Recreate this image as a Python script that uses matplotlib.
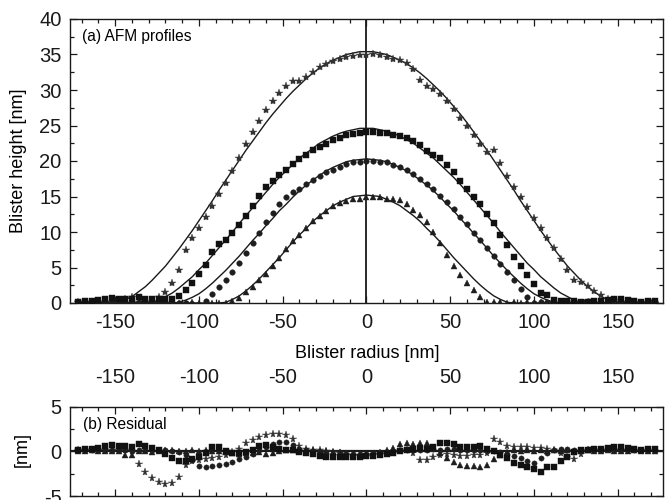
import numpy as np
import matplotlib
matplotlib.use('Agg')
from matplotlib import pyplot as plt
from matplotlib.ticker import MultipleLocator

plt.rcParams['font.family'] = ['Liberation Sans', 'DejaVu Sans']
plt.rcParams['axes.unicode_minus'] = False

# AFM sampling grid [nm]
radius = np.arange(-172, 173, 4)

# fitted profiles [nm]
star_fit = [0, 0, 0, 0, 0, 0.0, 0.2, 0.5, 0.9, 1.6, 2.3, 3.2, 4.2, 5.2, 6.4, 7.6, 8.9, 10.2, 11.6, 13.0, 14.4,
            15.9, 17.3, 18.7, 20.1, 21.5, 22.8, 24.1, 25.4, 26.6, 27.7, 28.8, 29.8, 30.7, 31.6, 32.4, 33.1, 33.7,
            34.2, 34.6, 35.0, 35.2, 35.4, 35.4, 35.4, 35.2, 35.0, 34.6, 34.2, 33.7, 33.1, 32.4, 31.6, 30.7, 29.8,
            28.8, 27.7, 26.6, 25.4, 24.1, 22.8, 21.5, 20.1, 18.7, 17.3, 15.9, 14.4, 13.0, 11.6, 10.2, 8.9, 7.6,
            6.4, 5.2, 4.2, 3.2, 2.3, 1.6, 0.9, 0.5, 0.2, 0.0, 0, 0, 0, 0, 0]
square_fit = [0, 0, 0, 0, 0, 0, 0, 0, 0, 0, 0.0, 0.1, 0.4, 0.9, 1.4, 2.1, 2.9, 3.7, 4.7, 5.6, 6.7, 7.8, 8.9,
              10.0, 11.2, 12.3, 13.4, 14.5, 15.6, 16.7, 17.7, 18.6, 19.5, 20.4, 21.1, 21.8, 22.5, 23.0, 23.5,
              23.9, 24.2, 24.4, 24.6, 24.6, 24.6, 24.4, 24.2, 23.9, 23.5, 23.0, 22.5, 21.8, 21.1, 20.4, 19.5,
              18.6, 17.7, 16.7, 15.6, 14.5, 13.4, 12.3, 11.2, 10.0, 8.9, 7.8, 6.7, 5.6, 4.7, 3.7, 2.9, 2.1, 1.4,
              0.9, 0.4, 0.1, 0.0, 0, 0, 0, 0, 0, 0, 0, 0, 0, 0]
circle_fit = [0, 0, 0, 0, 0, 0, 0, 0, 0, 0, 0, 0, 0, 0, 0, 0.1, 0.4, 0.8, 1.3, 2.0, 2.8, 3.7, 4.6, 5.6, 6.6,
              7.7, 8.8, 9.8, 10.9, 11.9, 13.0, 13.9, 14.9, 15.8, 16.6, 17.3, 18.0, 18.6, 19.1, 19.5, 19.9, 20.1,
              20.2, 20.3, 20.2, 20.1, 19.9, 19.5, 19.1, 18.6, 18.0, 17.3, 16.6, 15.8, 14.9, 13.9, 13.0, 11.9,
              10.9, 9.8, 8.8, 7.7, 6.6, 5.6, 4.6, 3.7, 2.8, 2.0, 1.3, 0.8, 0.4, 0.1, 0, 0, 0, 0, 0, 0, 0, 0, 0,
              0, 0, 0, 0, 0, 0]
triangle_fit = [0, 0, 0, 0, 0, 0, 0, 0, 0, 0, 0, 0, 0, 0, 0, 0, 0, 0, 0, 0, 0, 0, 0.1, 0.5, 1.0, 1.7, 2.5,
                3.4, 4.4, 5.4, 6.4, 7.5, 8.6, 9.6, 10.5, 11.5, 12.3, 13.0, 13.7, 14.2, 14.6, 15.0, 15.1, 15.2,
                15.1, 15.0, 14.6, 14.2, 13.7, 13.0, 12.3, 11.5, 10.5, 9.6, 8.6, 7.5, 6.4, 5.4, 4.4, 3.4, 2.5,
                1.7, 1.0, 0.5, 0.1, 0, 0, 0, 0, 0, 0, 0, 0, 0, 0, 0, 0, 0, 0, 0, 0, 0, 0, 0, 0, 0, 0]

# measured heights [nm]
star_h = [0.1, 0.1, 0.2, 0.1, 0.2, 0.1, 0.4, 0.6, 0.9, 0.2, 0.0, 0.2, 0.8, 1.5, 2.8, 4.7, 7.4, 9.1, 10.6,
          12.1, 13.7, 15.3, 16.9, 18.6, 20.4, 22.4, 24.1, 25.7, 27.2, 28.5, 29.6, 30.6, 31.2, 31.3, 31.9, 32.6,
          33.2, 33.7, 34.1, 34.4, 34.7, 34.8, 34.9, 34.9, 35.0, 34.9, 34.7, 34.4, 34.2, 33.8, 32.9, 31.4, 30.6,
          30.1, 29.4, 28.5, 27.3, 26.1, 24.9, 23.7, 22.4, 21.3, 21.5, 19.7, 17.9, 16.4, 14.9, 13.5, 12.0, 10.6,
          9.2, 7.8, 6.2, 4.6, 3.3, 2.9, 2.4, 1.7, 1.1, 0.6, 0.4, 0.1, 0.1, 0.1, 0.0, 0.1, 0.0]
square_h = [0.2, 0.3, 0.3, 0.4, 0.6, 0.7, 0.6, 0.6, 0.5, 0.8, 0.6, 0.5, 0.6, 0.6, 0.6, 1.0, 1.8, 2.8, 4.1, 5.4,
            7.2, 8.3, 8.9, 9.8, 11.0, 12.2, 13.6, 15.1, 16.3, 17.2, 18.0, 18.8, 19.6, 20.3, 20.9, 21.5, 22.0,
            22.4, 22.9, 23.3, 23.6, 23.8, 24.0, 24.1, 24.1, 24.0, 23.9, 23.7, 23.5, 23.2, 22.8, 22.2, 21.4,
            20.9, 20.4, 19.5, 18.5, 17.2, 16.1, 15.0, 14.0, 12.6, 11.2, 9.6, 8.1, 6.5, 5.2, 3.9, 2.7, 1.4, 1.1,
            0.4, 0.3, 0.3, 0.3, 0.2, 0.2, 0.3, 0.3, 0.4, 0.5, 0.5, 0.4, 0.3, 0.2, 0.3, 0.3]
circle_h = [0.1, 0.1, 0.1, 0.2, 0.2, 0.1, 0.1, 0.1, 0.0, 0.1, 0.2, 0.2, 0.1, 0.1, 0.0, 0.0, 0.0, -0.2, -0.3,
            0.3, 1.2, 2.2, 3.2, 4.4, 5.7, 7.1, 8.5, 9.9, 11.4, 12.7, 14.0, 14.9, 15.6, 16.1, 16.7, 17.3, 17.9,
            18.4, 18.8, 19.2, 19.6, 19.8, 19.9, 20.0, 20.0, 19.9, 19.8, 19.5, 19.2, 18.8, 18.2, 17.5, 16.8, 16.1,
            15.1, 14.2, 13.3, 12.1, 11.1, 9.9, 8.9, 7.7, 6.6, 5.5, 4.3, 3.2, 2.0, 0.9, 0.0, 0.1, 0.2, 0.2, 0.3,
            0.3, 0.2, 0.2, 0.3, 0.2, 0.2, 0.3, 0.2, 0.2, 0.3, 0.2, 0.2, 0.2, 0.2]
triangle_h = [0.0, 0.0, 0.1, 0.0, 0.0, 0.0, 0.0, -0.4, -0.4, 0.0, 0.0, -0.1, 0.0, 0.1, 0.1, 0.0, 0.0, 0.1, 0.0,
              0.1, 0.0, 0.0, 0.0, 0.3, 0.7, 1.5, 2.3, 3.3, 4.1, 5.2, 6.4, 7.6, 8.7, 9.6, 10.6, 11.6, 12.3, 13.0,
              13.6, 14.1, 14.4, 14.7, 14.7, 14.9, 14.9, 14.9, 14.7, 14.6, 14.5, 13.9, 13.1, 12.4, 11.4, 10.0, 8.4,
              6.8, 5.2, 3.9, 2.8, 1.8, 0.8, 0.2, 0.1, 0.1, 0.0, 0.1, 0.0, 0.1, 0.0, 0.1, 0.0, 0.1, 0.0, 0.1, 0.0,
              0.0, 0.1, 0.0, 0.0, 0.1, 0.0, 0.0, 0.0, 0.1, 0.0, 0.0, 0.0]

# residuals (data - fit) [nm]
star_res = [0.1, 0.1, 0.2, 0.1, 0.2, 0.1, 0.2, 0.1, 0.0, -1.4, -2.3, -3.0, -3.4, -3.7, -3.6, -2.9, -1.5, -1.1,
            -1.0, -0.9, -0.7, -0.6, -0.4, -0.1, 0.3, 0.9, 1.3, 1.6, 1.8, 1.9, 1.9, 1.8, 1.4, 0.6, 0.3, 0.2, 0.1,
            0.0, -0.1, -0.2, -0.3, -0.4, -0.5, -0.5, -0.4, -0.3, -0.3, -0.2, 0.0, 0.1, -0.2, -1.0, -1.0, -0.6,
            -0.4, -0.3, -0.4, -0.5, -0.5, -0.4, -0.4, -0.2, 1.4, 1.0, 0.6, 0.5, 0.5, 0.5, 0.4, 0.4, 0.3, 0.2,
            -0.2, -0.6, -0.9, -0.3, 0.1, 0.1, 0.2, 0.1, 0.2, 0.1, 0.1, 0.1, 0.0, 0.1, 0.0]
square_res = [0.2, 0.3, 0.3, 0.4, 0.6, 0.7, 0.6, 0.6, 0.5, 0.8, 0.6, 0.4, 0.2, -0.3, -0.8, -1.1, -1.1, -0.9,
              -0.6, -0.2, 0.5, 0.5, 0.0, -0.2, -0.2, -0.1, 0.2, 0.6, 0.7, 0.5, 0.3, 0.2, 0.1, -0.1, -0.2, -0.3,
              -0.5, -0.6, -0.6, -0.6, -0.6, -0.6, -0.6, -0.5, -0.5, -0.4, -0.3, -0.2, 0.0, 0.2, 0.3, 0.4, 0.3,
              0.5, 0.9, 0.9, 0.8, 0.5, 0.5, 0.5, 0.6, 0.3, 0.0, -0.4, -0.8, -1.3, -1.5, -1.7, -2.0, -2.3, -1.8,
              -1.7, -1.1, -0.6, -0.1, 0.1, 0.2, 0.3, 0.3, 0.4, 0.5, 0.5, 0.4, 0.3, 0.2, 0.3, 0.3]
circle_res = [0.1, 0.1, 0.1, 0.2, 0.2, 0.1, 0.1, 0.1, 0.0, 0.1, 0.2, 0.2, 0.1, 0.1, 0.0, -0.1, -0.4, -1.0,
              -1.6, -1.7, -1.6, -1.5, -1.4, -1.2, -0.9, -0.6, -0.3, 0.1, 0.5, 0.8, 1.0, 1.0, 0.7, 0.3, 0.1, 0.0,
              -0.1, -0.2, -0.3, -0.3, -0.3, -0.3, -0.3, -0.3, -0.2, -0.2, -0.1, 0.0, 0.1, 0.2, 0.2, 0.2, 0.2,
              0.3, 0.2, 0.3, 0.3, 0.2, 0.2, 0.1, 0.1, 0.0, 0.0, -0.1, -0.3, -0.5, -0.8, -1.1, -1.3, -0.7, -0.2,
              0.1, 0.3, 0.3, 0.2, 0.2, 0.3, 0.2, 0.2, 0.3, 0.2, 0.2, 0.3, 0.2, 0.2, 0.2, 0.2]
triangle_res = [0.0, 0.0, 0.1, 0.0, 0.0, 0.0, 0.0, -0.4, -0.4, 0.0, 0.0, -0.1, 0.0, 0.1, 0.1, 0.0, 0.0, 0.1,
                0.0, 0.1, 0.0, 0.0, -0.1, -0.2, -0.3, -0.2, -0.2, -0.1, -0.3, -0.2, 0.0, 0.1, 0.1, 0.0, 0.1, 0.1,
                0.0, 0.0, -0.1, -0.1, -0.2, -0.3, -0.4, -0.3, -0.2, -0.1, 0.1, 0.4, 0.8, 0.9, 0.8, 0.9, 0.9, 0.4,
                -0.2, -0.7, -1.2, -1.5, -1.6, -1.6, -1.7, -1.5, -0.9, -0.4, -0.1, 0.1, 0.0, 0.1, 0.0, 0.1, 0.0,
                0.1, 0.0, 0.1, 0.0, 0.0, 0.1, 0.0, 0.0, 0.1, 0.0, 0.0, 0.0, 0.1, 0.0, 0.0, 0.0]

# marker, size, colour per series
series = [
    ('*', 6.0, '#333333', star_h, star_fit, star_res),
    ('o', 4.0, '#1e1e1e', circle_h, circle_fit, circle_res),
    ('^', 4.3, '#1e1e1e', triangle_h, triangle_fit, triangle_res),
    ('s', 4.0, '#111111', square_h, square_fit, square_res),
]

fig = plt.figure(figsize=(6.7, 5), dpi=100)
ax = fig.add_axes([0.1045, 0.394, 0.885, 0.568])
ax_r = fig.add_axes([0.1045, 0.008, 0.885, 0.1786])

for m, ms, c, h, fit, res in series:
    ax.plot(radius, fit, color='#1a1a1a', lw=1.0, zorder=2)
    ax.plot(radius, h, ls='none', marker=m, ms=ms, color=c, mec=c, mew=0.3, zorder=3)
    ax_r.plot(radius, res, ls='none', marker=m, ms=ms * 0.95, color=c, mec=c, mew=0.3, zorder=3)

ax.axvline(0, color='#1a1a1a', lw=1.3, zorder=1)
ax_r.axhline(0, color='#1a1a1a', lw=1.6, zorder=2)

for a in (ax, ax_r):
    a.set_xlim(-177, 177)
    a.xaxis.set_major_locator(MultipleLocator(50))
    a.xaxis.set_minor_locator(MultipleLocator(10))
    a.tick_params(which='both', direction='in', top=True, right=True, width=0.9,
                  labelsize=14.5, colors='#1a1a1a')
    a.tick_params(which='major', length=5)
    a.tick_params(which='minor', length=3)
    for s in a.spines.values():
        s.set_linewidth(1.0)
        s.set_color('#1a1a1a')

ax.set_ylim(0, 40)
ax.yaxis.set_major_locator(MultipleLocator(5))
ax.yaxis.set_minor_locator(MultipleLocator(2.5))
ax.tick_params(axis='x', pad=7)
ax.tick_params(axis='y', pad=6)
ax.set_ylabel('Blister height [nm]', fontsize=13)
ax.yaxis.set_label_coords(-0.072, 0.5)
ax.text(0.021, 0.938, '(a) AFM profiles', transform=ax.transAxes, fontsize=11.2, va='center')

ax_r.set_ylim(-5, 5)
ax_r.yaxis.set_major_locator(MultipleLocator(5))
ax_r.yaxis.set_minor_locator(MultipleLocator(2.5))
ax_r.tick_params(axis='x', labeltop=True, labelbottom=False, pad=14)
ax_r.tick_params(axis='y', pad=6)
ax_r.set_ylabel('[nm]', fontsize=13)
ax_r.yaxis.set_label_coords(-0.066, 0.52)
ax_r.text(0.022, 0.80, '(b) Residual', transform=ax_r.transAxes, fontsize=11.2, va='center')

fig.text(0.548, 0.294, 'Blister radius [nm]', ha='center', va='center', fontsize=13)

fig.savefig('out.png', dpi=100)
